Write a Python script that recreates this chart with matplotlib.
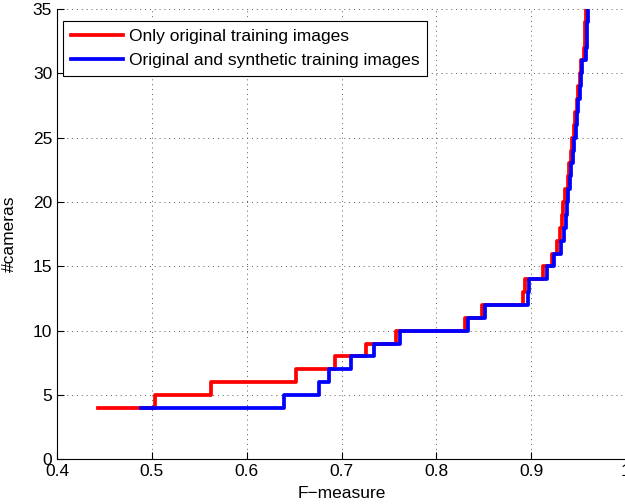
import numpy as np
import matplotlib
matplotlib.use('Agg')
import matplotlib.pyplot as plt

plt.rcParams['font.family'] = ['Liberation Sans', 'DejaVu Sans']

# F-measure at which the camera count steps up to the given value
cams = [4, 5, 6, 7, 8, 9, 10, 11, 12, 13, 14, 15, 16, 17, 18, 19, 20,
        21, 22, 23, 24, 25, 26, 27, 28, 29, 30, 31, 32, 33, 34, 35]
f_orig = [0.443, 0.503, 0.562, 0.652, 0.693, 0.726, 0.757, 0.830, 0.848,
          0.891, 0.894, 0.9125, 0.922, 0.927, 0.930, 0.9325, 0.934, 0.936,
          0.9385, 0.940, 0.942, 0.9435, 0.945, 0.9465, 0.948, 0.9495,
          0.951, 0.9525, 0.956, 0.9565, 0.957, 0.9575]
f_synth = [0.489, 0.6394, 0.676, 0.687, 0.7097, 0.7346, 0.7617, 0.8337,
           0.851, 0.8965, 0.898, 0.9165, 0.9246, 0.931, 0.9346, 0.9367,
           0.938, 0.939, 0.941, 0.9425, 0.944, 0.9455, 0.947, 0.948,
           0.9495, 0.951, 0.9525, 0.954, 0.958, 0.9585, 0.959, 0.9595]

labels = ['Only original training images',
          'Original and synthetic training images']

fig = plt.figure(figsize=(6.25, 5.04), dpi=100)
ax = fig.add_axes([0.0912, 0.0885, 0.9104, 0.8936])

ax.plot(f_orig + [f_orig[-1]], cams + [cams[-1] + 1], drawstyle='steps-post',
        color='#ff0000', lw=2.7, label=labels[0])
ax.plot(f_synth + [f_synth[-1]], cams + [cams[-1] + 1], drawstyle='steps-post',
        color='#0000ff', lw=2.7, label=labels[1])

ax.set_xlim(0.4, 1.0)
ax.set_ylim(0, 35)
ax.set_xticks([0.4, 0.5, 0.6, 0.7, 0.8, 0.9, 1.0])
ax.set_xticklabels(['0.4', '0.5', '0.6', '0.7', '0.8', '0.9', '1'])
ax.set_yticks(np.arange(0, 36, 5))

ax.grid(True, color='0.35', linestyle=(0, (1, 4)), lw=0.7)
ax.tick_params(direction='in', length=5, labelsize=12.5, width=0.8)
for s in ['top', 'right']:
    ax.spines[s].set_visible(False)

ax.set_xlabel('F\u2212measure', fontsize=12.5, labelpad=5)
ax.set_ylabel('#cameras', fontsize=12.5, labelpad=11)

leg = ax.legend(loc='upper left', bbox_to_anchor=(0.0105, 0.973),
                borderaxespad=0, fontsize=12.5, fancybox=False,
                edgecolor='k', framealpha=1, handlelength=3.0,
                labelspacing=0.5, borderpad=0.45, handletextpad=0.35)
leg.get_frame().set_linewidth(0.8)

fig.savefig('out.png', dpi=100)
